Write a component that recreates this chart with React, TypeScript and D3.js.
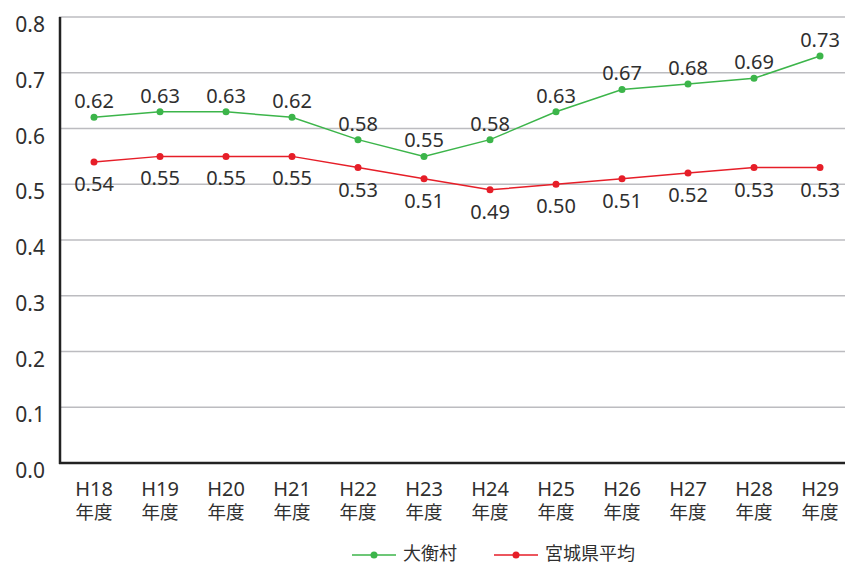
import React from "react";
import * as d3 from "d3";

const categories = ["H18", "H19", "H20", "H21", "H22", "H23", "H24", "H25", "H26", "H27", "H28", "H29"];
const ohiraValues = [0.62, 0.63, 0.63, 0.62, 0.58, 0.55, 0.58, 0.63, 0.67, 0.68, 0.69, 0.73];
const miyagiValues = [0.54, 0.55, 0.55, 0.55, 0.53, 0.51, 0.49, 0.5, 0.51, 0.52, 0.53, 0.53];
const yTicks = [0, 0.1, 0.2, 0.3, 0.4, 0.5, 0.6, 0.7, 0.8];
const seriesNames = ["大衡村", "宮城県平均"];

const W = 845, H = 565;
const FONT = "'Noto Sans', 'Noto Sans CJK JP', sans-serif";
const GREEN = "#3cb54a";
const RED = "#e61e28";
const TEXT = "#2f2f2f";

export default function App() {
  const x = d3.scalePoint<string>().domain(categories).range([94, 820]);
  const y = d3.scaleLinear().domain([0, 0.8]).range([463, 17]);
  const line = d3.line<number>().x((_, i) => x(categories[i])!).y(d => y(d));
  const series = [
    { name: seriesNames[0], values: ohiraValues, color: GREEN, dy: -9 },
    { name: seriesNames[1], values: miyagiValues, color: RED, dy: 29 },
  ];
  const legendX = [352, 494];
  return (
    <svg width={W} height={H} style={{ position: "absolute", left: 0, top: 0, background: "#fff" }} fontFamily={FONT}>
      {yTicks.map(t => (
        <g key={t}>
          {t > 0 && <line x1={59} x2={W} y1={y(t)} y2={y(t)} stroke="#bcbcc0" strokeWidth={1.5} />}
          <text x={45} y={y(t) + 15} fontSize={21} textAnchor="end" fill={TEXT}>{t.toFixed(1)}</text>
        </g>
      ))}
      <line x1={59} x2={W} y1={y(0)} y2={y(0)} stroke="#222" strokeWidth={2.5} />
      <line x1={60} x2={60} y1={y(0.8)} y2={y(0) + 1} stroke="#222" strokeWidth={2.5} />
      {categories.map(c => (
        <g key={c}>
          <text x={x(c)} y={496} textAnchor="middle" fontSize={20} fill={TEXT}>{c}</text>
          <text x={x(c)} y={519} textAnchor="middle" fontSize={18.5} fill={TEXT}>年度</text>
        </g>
      ))}
      {series.map(s => (
        <g key={s.name}>
          <path d={line(s.values)!} fill="none" stroke={s.color} strokeWidth={1.5} />
          {s.values.map((v, i) => (
            <g key={i}>
              <circle cx={x(categories[i])} cy={y(v)} r={3.5} fill={s.color} />
              <text x={x(categories[i])} y={y(v) + s.dy} textAnchor="middle" fontSize={20} fill={TEXT}>{v.toFixed(2)}</text>
            </g>
          ))}
        </g>
      ))}
      {series.map((s, i) => {
        const lx = legendX[i];
        return (
          <g key={s.name}>
            <line x1={lx} x2={lx + 44} y1={555} y2={555} stroke={s.color} strokeWidth={1.5} />
            <circle cx={lx + 22} cy={555} r={3.5} fill={s.color} />
            <text x={lx + 51} y={560} fontSize={18} fill={TEXT}>{s.name}</text>
          </g>
        );
      })}
    </svg>
  );
}
